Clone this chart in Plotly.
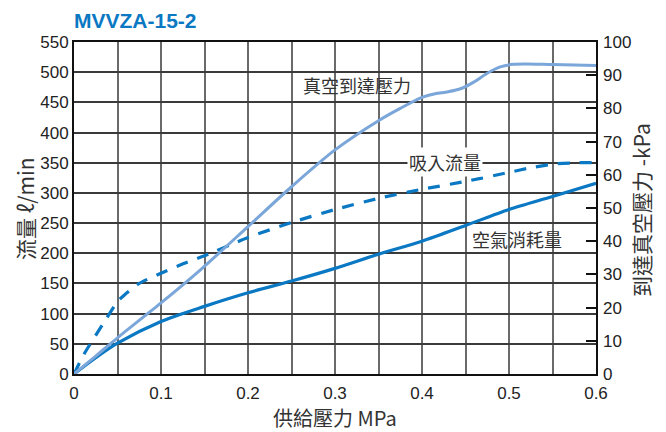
import plotly.graph_objects as go

# supply pressure (MPa) sample points per series
vac_x = [0, 0.025, 0.05, 0.1, 0.145, 0.2, 0.25, 0.3, 0.35, 0.375, 0.4, 0.415, 0.43, 0.445, 0.46, 0.475, 0.49, 0.505, 0.52, 0.55, 0.6]
vac_y = [0, 5.4, 10.9, 21.4, 31.3, 44.4, 56.4, 67.5, 76.3, 80.0, 83.3, 84.4, 85.0, 86.0, 88.0, 90.6, 92.5, 93.3, 93.4, 93.2, 92.9]  # kPa

suc_x = [0, 0.012, 0.036, 0.05, 0.058, 0.075, 0.1, 0.126, 0.15, 0.2, 0.25, 0.3, 0.35, 0.4, 0.45, 0.5, 0.526, 0.553, 0.58, 0.6]
suc_y = [0, 34, 89, 120, 131, 150, 167, 183, 196, 226, 251, 272.5, 291, 306, 319, 334, 342, 348, 350, 350]  # l/min

air_x = [0, 0.025, 0.05, 0.1, 0.15, 0.2, 0.25, 0.3, 0.35, 0.4, 0.45, 0.5, 0.55, 0.6]
air_y = [0, 27, 51, 87, 112, 134.5, 154, 175, 198.5, 220, 246, 272.5, 294, 316]  # l/min

x_ticks = [0, 0.1, 0.2, 0.3, 0.4, 0.5, 0.6]
x_tick_labels = ["0", "0.1", "0.2", "0.3", "0.4", "0.5", "0.6"]

LIGHT = "#7aa6da"
DARK = "#0a78c2"
VGRID = "#6a6a6a"
HGRID = "#3a3a3a"
FONT = "Liberation Sans, Arial, sans-serif"
CJK = "Noto Sans CJK TC, Liberation Sans, sans-serif"
TXT = "#333333"

fig = go.Figure()
fig.add_trace(go.Scatter(x=air_x, y=air_y, mode="lines",
                         line=dict(color=DARK, width=3.2, shape="spline", smoothing=0.8),
                         showlegend=False, hoverinfo="skip"))
fig.add_trace(go.Scatter(x=suc_x, y=suc_y, mode="lines",
                         line=dict(color=DARK, width=3.2, dash="12px,10px", shape="spline", smoothing=0.6),
                         showlegend=False, hoverinfo="skip"))
fig.add_trace(go.Scatter(x=vac_x, y=vac_y, mode="lines", yaxis="y2",
                         line=dict(color=LIGHT, width=3, shape="spline", smoothing=0.8),
                         showlegend=False, hoverinfo="skip"))

fig.update_layout(
    width=650, height=424,
    margin=dict(l=66, r=62, t=34, b=58),
    paper_bgcolor="white", plot_bgcolor="white",
    font=dict(family=FONT, size=17, color="#222222"),
    xaxis=dict(range=[0, 0.6], tickvals=x_ticks, ticktext=x_tick_labels,
               showgrid=True, gridcolor=VGRID, gridwidth=2,
               minor=dict(dtick=0.05, showgrid=True, gridcolor=VGRID, gridwidth=2),
               showline=True, linecolor="#111111", linewidth=2, mirror=True,
               zeroline=False, ticks="", tickfont=dict(size=17), ticklabelstandoff=3),
    yaxis=dict(range=[0, 550], dtick=50, showgrid=True, gridcolor=HGRID, gridwidth=2,
               showline=True, linecolor="#111111", linewidth=2, mirror=True,
               zeroline=False, ticks="", tickfont=dict(size=17)),
    yaxis2=dict(range=[0, 100], dtick=10, overlaying="y", side="right", showgrid=False,
                zeroline=False, ticks="inside", ticklen=10, tickwidth=2, tickcolor="#111111",
                showline=False, tickfont=dict(size=17), ticklabelstandoff=6),
    annotations=[
        dict(text="<b>MVVZA-15-2</b>", xref="paper", yref="paper", x=-0.003, y=1.066,
             xanchor="left", yanchor="middle", showarrow=False,
             font=dict(family=FONT, size=21, color=DARK)),
        dict(text="流量 ℓ/min", xref="paper", yref="paper", x=-0.094, y=0.5, textangle=-90,
             showarrow=False, xanchor="center", yanchor="middle",
             font=dict(family=CJK, size=21, color=TXT)),
        dict(text="到達真空壓力 -kPa", xref="paper", yref="paper", x=1.086, y=0.494, textangle=-90,
             showarrow=False, xanchor="center", yanchor="middle",
             font=dict(family=CJK, size=21, color=TXT)),
        dict(text="供給壓力 MPa", xref="paper", yref="paper", x=0.5, y=-0.13,
             showarrow=False, xanchor="center", yanchor="middle",
             font=dict(family=CJK, size=20, color=TXT)),
        dict(text="真空到達壓力", x=0.3253, y=87, xref="x", yref="y2", showarrow=False,
             font=dict(family=CJK, size=18, color=TXT)),
        dict(text="吸入流量", x=0.4264, y=351, xref="x", yref="y", showarrow=False, bgcolor="white",
             font=dict(family=CJK, size=18, color=TXT)),
        dict(text="空氣消耗量", x=0.509, y=223.6, xref="x", yref="y", showarrow=False,
             font=dict(family=CJK, size=18, color=TXT)),
    ],
)

fig.write_html("out.html")
